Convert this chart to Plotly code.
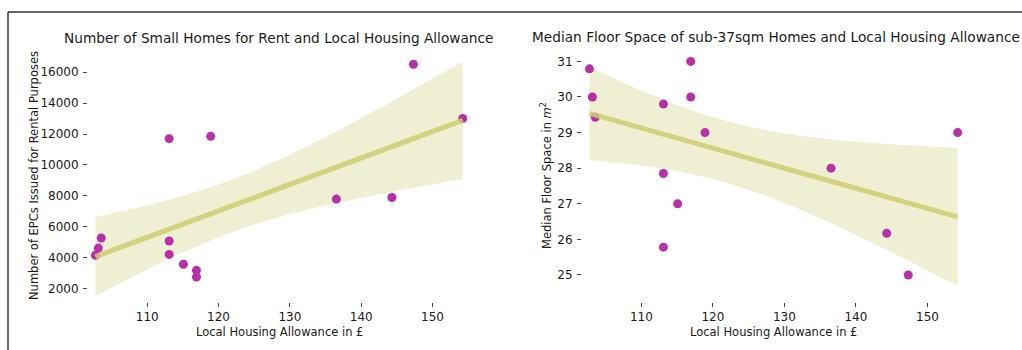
import numpy as np
import plotly.graph_objects as go

# ---- data ----
lha = [102.74, 103.15, 103.56, 113.08, 113.08, 113.08, 115.07, 116.90, 116.90,
       118.90, 136.52, 144.30, 147.32, 154.23]
epcs = [4150, 4620, 5270, 11700, 5080, 4210, 3570, 3180, 2750,
        11850, 7790, 7890, 16520, 13010]

lha2 = [102.74, 103.15, 103.56, 113.08, 113.08, 113.08, 115.07, 116.90, 116.90,
        118.90, 136.52, 144.30, 147.32, 154.23]
floor = [30.79, 30.0, 29.43, 29.8, 27.85, 25.78, 27.0, 31.0, 30.0,
         29.0, 28.0, 26.17, 25.0, 29.0]

title1 = "Number of Small Homes for Rent and Local Housing Allowance"
title2 = "Median Floor Space of sub-37sqm Homes and Local Housing Allowance"
ylab1 = "Number of EPCs Issued for Rental Purposes"
ylab2 = "Median Floor Space in <i>m</i><sup>2</sup>"
xlab = "Local Housing Allowance in £"
xticks = [110, 120, 130, 140, 150]
yticks1 = [2000, 4000, 6000, 8000, 10000, 12000, 14000, 16000]
yticks2 = [25, 26, 27, 28, 29, 30, 31]

W, H = 1022, 350
FONT = "DejaVu Sans"
TXT = "#1a1a1a"
PT = "rgb(183,48,168)"
LINE = "rgba(205,205,112,0.85)"
BAND = "rgba(212,212,135,0.36)"


def fit(x, y, n=100):
    x = np.asarray(x, float)
    y = np.asarray(y, float)
    b, a = np.polyfit(x, y, 1)
    xs = np.linspace(x.min(), x.max(), n)
    yhat = a + b * xs
    resid = y - (a + b * x)
    dof = len(x) - 2
    s = np.sqrt((resid ** 2).sum() / dof)
    sxx = ((x - x.mean()) ** 2).sum()
    se = s * np.sqrt(1 / len(x) + (xs - x.mean()) ** 2 / sxx)
    t = 1.9
    return xs, yhat, yhat - t * se, yhat + t * se


fig = go.Figure()


def add_panel(x, y, xa, ya):
    xs, yh, lo, hi = fit(x, y)
    fig.add_trace(go.Scatter(x=xs, y=lo, mode="lines", line=dict(width=0),
                             hoverinfo="skip", showlegend=False, xaxis=xa, yaxis=ya))
    fig.add_trace(go.Scatter(x=xs, y=hi, mode="lines", line=dict(width=0),
                             fill="tonexty", fillcolor=BAND,
                             hoverinfo="skip", showlegend=False, xaxis=xa, yaxis=ya))
    fig.add_trace(go.Scatter(x=x, y=y, mode="markers",
                             marker=dict(color=PT, size=9, line=dict(width=0)),
                             showlegend=False, xaxis=xa, yaxis=ya))
    fig.add_trace(go.Scatter(x=xs, y=yh, mode="lines", line=dict(color=LINE, width=5),
                             showlegend=False, xaxis=xa, yaxis=ya))


add_panel(lha, epcs, "x", "y")
add_panel(lha2, floor, "x2", "y2")

# pixel layout -> paper coords (zero margins)
def px(v):
    return v / W


def py(v):
    return 1 - v / H


L1, R1 = 88, 470
L2, R2 = 582, 965
TOP, BOT = 50, 302

axis_common = dict(showgrid=False, zeroline=False, showline=False,
                   ticks="outside", ticklen=4, tickwidth=1, tickcolor="#444",
                   tickfont=dict(family=FONT, size=12, color=TXT))

fig.update_layout(
    width=W, height=H,
    margin=dict(l=0, r=0, t=0, b=0),
    paper_bgcolor="white", plot_bgcolor="white",
    xaxis=dict(domain=[px(L1), px(R1)], range=[101.7, 155.25], tickvals=xticks,
               anchor="y", **axis_common),
    yaxis=dict(domain=[py(BOT), py(TOP)], range=[1130, 17440], tickvals=yticks1,
               ticktext=[str(v) for v in yticks1], anchor="x",
               ticklabelstandoff=2, **axis_common),
    xaxis2=dict(domain=[px(L2), px(R2)], range=[101.7, 155.25], tickvals=xticks,
                anchor="y2", **axis_common),
    yaxis2=dict(domain=[py(BOT), py(TOP)], range=[24.24, 31.32], tickvals=yticks2,
                ticktext=[str(v) for v in yticks2], anchor="x2",
                ticklabelstandoff=2, **axis_common),
)

ann = []
def text(x, y, s, size, angle=0):
    ann.append(dict(x=px(x), y=py(y), xref="paper", yref="paper", text=s,
                    showarrow=False, textangle=angle, xanchor="center", yanchor="middle",
                    font=dict(family=FONT, size=size, color=TXT)))

text((L1 + R1) / 2, 38, title1, 13.7)
text((L2 + R2) / 2 + 2, 37, title2, 13.7)
text((L1 + R1) / 2, 332, xlab, 11.5)
text((L2 + R2) / 2, 332, xlab, 11.5)
text(34, 176, ylab1, 11.5, -90)
text(546, 176, ylab2, 11.5, -90)
fig.update_layout(annotations=ann)

# thin frame around the screenshot (top and left edges)
fig.add_shape(type="line", xref="paper", yref="paper",
              x0=px(8), x1=px(1022), y0=py(12), y1=py(12),
              line=dict(color="#333", width=1.5))
fig.add_shape(type="line", xref="paper", yref="paper",
              x0=px(8), x1=px(8), y0=py(12), y1=py(350),
              line=dict(color="#333", width=1.5))

fig.write_html("out.html")
